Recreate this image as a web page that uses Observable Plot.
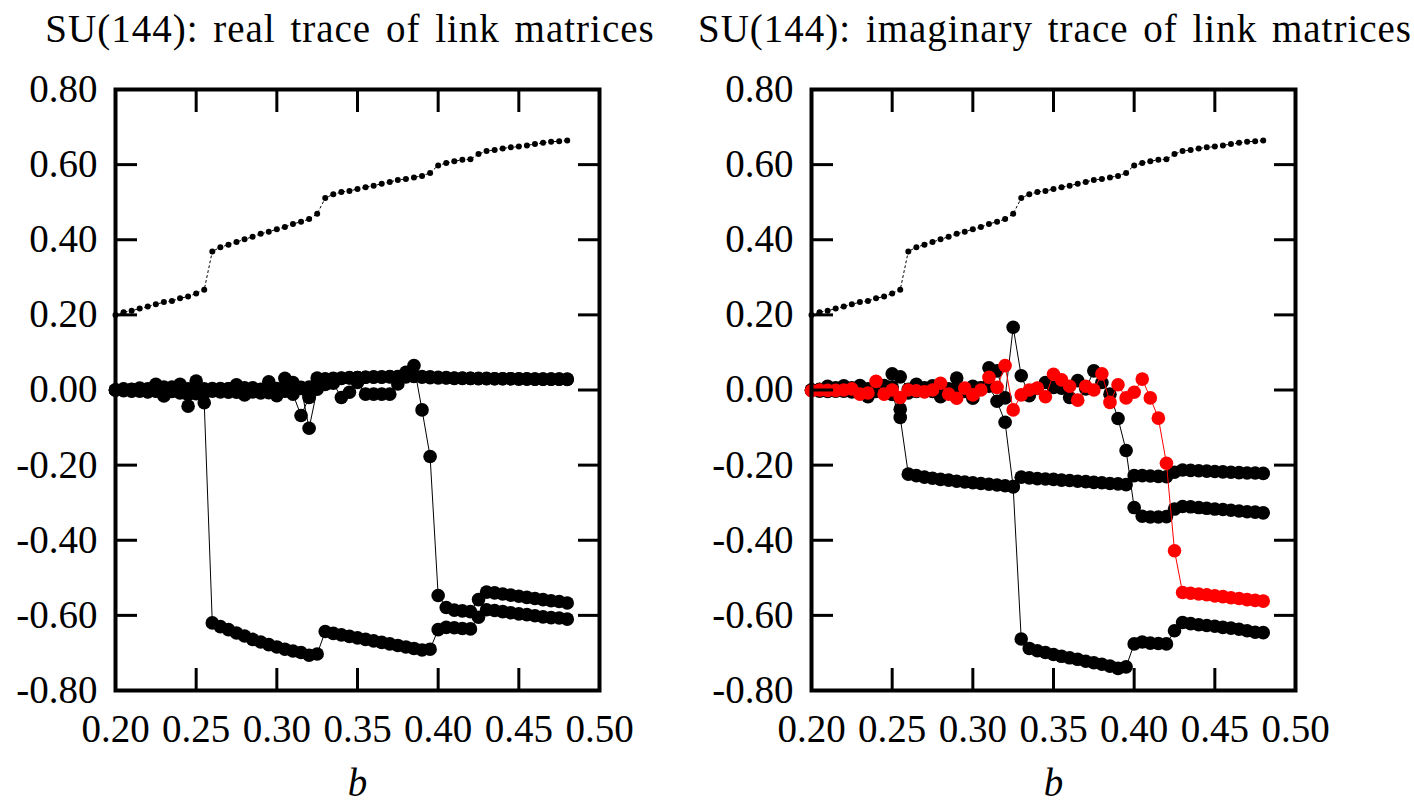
<!DOCTYPE html>
<html><head><meta charset="utf-8">
<script src="https://cdn.jsdelivr.net/npm/d3@7"></script>
<script src="https://cdn.jsdelivr.net/npm/@observablehq/plot@0.6"></script>
<style>
body{margin:0;background:#fff;}
#wrap{position:relative;width:1414px;height:805px;overflow:hidden;font-family:"Liberation Serif",serif;background:#fff;}
.title{position:absolute;top:9px;font-size:39px;line-height:39px;white-space:nowrap;text-align:center;letter-spacing:1px;word-spacing:4px;color:#000;}
.panel{position:absolute;top:0;}
</style></head><body><div id="wrap"></div>
<script>
const titles = ["SU(144): real trace of link matrices", "SU(144): imaginary trace of link matrices"];
const xLabel = "b";
const xTicks = [0.20, 0.25, 0.30, 0.35, 0.40, 0.45, 0.50];
const yTicks = [-0.8, -0.6, -0.4, -0.2, 0.0, 0.2, 0.4, 0.6, 0.8];

const bValues = [0.200,0.205,0.210,0.215,0.220,0.225,0.230,0.235,0.240,0.245,
0.250,0.255,0.260,0.265,0.270,0.275,0.280,0.285,0.290,0.295,
0.300,0.305,0.310,0.315,0.320,0.325,0.330,0.335,0.340,0.345,
0.350,0.355,0.360,0.365,0.370,0.375,0.380,0.385,0.390,0.395,
0.400,0.405,0.410,0.415,0.420,0.425,0.430,0.435,0.440,0.445,
0.450,0.455,0.460,0.465,0.470,0.475,0.480];

// small-dot upper series (same in both panels)
const plaquette = [0.200,0.207,0.211,0.217,0.222,0.228,0.234,0.237,0.244,0.249,
0.257,0.267,0.369,0.380,0.387,0.394,0.401,0.408,0.416,0.421,
0.428,0.434,0.442,0.448,0.455,0.469,0.511,0.521,0.527,0.530,
0.535,0.540,0.544,0.549,0.554,0.559,0.562,0.566,0.570,0.578,
0.598,0.604,0.609,0.613,0.614,0.628,0.636,0.639,0.643,0.646,
0.648,0.651,0.655,0.658,0.661,0.662,0.664];

// real trace, four directions
const realA = [0.000,0.002,-0.003,0.005,-0.004,0.004,-0.016,0.006,0.012,-0.043,
0.006,-0.034,-0.620,-0.630,-0.638,-0.647,-0.655,-0.664,-0.671,-0.678,
-0.684,-0.690,-0.695,-0.699,-0.706,-0.703,-0.643,-0.648,-0.652,-0.656,
-0.660,-0.664,-0.668,-0.672,-0.676,-0.680,-0.684,-0.688,-0.692,-0.690,
-0.638,-0.632,-0.633,-0.635,-0.636,-0.605,-0.585,-0.587,-0.590,-0.593,
-0.596,-0.598,-0.601,-0.604,-0.606,-0.607,-0.610];
const realB = [0.000,-0.002,0.001,-0.001,0.003,0.015,0.004,-0.004,0.015,0.003,
0.024,-0.002,-0.003,0.002,0.003,0.014,-0.013,0.006,-0.003,0.022,
-0.015,0.031,-0.011,-0.068,-0.020,0.032,0.030,0.031,0.032,0.033,
0.033,0.034,0.034,0.034,0.035,0.035,0.035,0.036,0.034,0.033,
0.032,0.032,0.031,0.031,0.031,0.030,0.030,0.030,0.030,0.030,
0.029,0.029,0.029,0.029,0.029,0.029,0.029];
const realC = [0.000,0.003,-0.002,0.003,-0.005,-0.003,0.002,0.008,-0.008,-0.005,
-0.010,0.003,0.004,-0.005,0.003,-0.006,0.006,-0.005,0.002,-0.007,
0.003,-0.003,0.008,0.007,-0.102,0.002,0.015,0.018,-0.020,-0.006,
0.020,-0.011,-0.011,-0.011,-0.011,0.016,0.047,0.065,-0.053,-0.177,
-0.547,-0.579,-0.586,-0.588,-0.590,-0.558,-0.538,-0.540,-0.543,-0.546,
-0.549,-0.552,-0.555,-0.558,-0.561,-0.563,-0.567];
const realD = [0.000,0.001,0.002,-0.003,0.001,-0.002,0.008,-0.002,0.004,-0.012,
0.002,-0.008,0.001,0.004,-0.006,0.002,0.004,-0.001,-0.008,0.002,
0.004,-0.002,0.020,0.004,0.008,0.018,0.028,0.030,0.031,0.032,
0.033,0.034,0.035,0.035,0.036,0.036,0.037,0.037,0.036,0.035,
0.034,0.033,0.032,0.032,0.031,0.031,0.031,0.030,0.030,0.030,
0.030,0.030,0.029,0.029,0.029,0.029,0.028];

// imaginary trace, three black directions + one red
const imagA = [0.000,-0.003,0.004,0.006,0.011,-0.005,0.012,-0.018,-0.004,0.012,
-0.012,-0.073,-0.224,-0.228,-0.232,-0.235,-0.238,-0.240,-0.243,-0.245,
-0.247,-0.249,-0.251,-0.253,-0.255,-0.257,-0.232,-0.234,-0.236,-0.237,
-0.238,-0.240,-0.241,-0.243,-0.244,-0.246,-0.247,-0.249,-0.250,-0.252,
-0.228,-0.228,-0.229,-0.230,-0.231,-0.219,-0.213,-0.214,-0.215,-0.216,
-0.217,-0.218,-0.219,-0.220,-0.221,-0.221,-0.222];
const imagB = [0.000,0.002,0.010,-0.003,0.004,0.006,-0.004,0.003,0.006,-0.006,
0.008,-0.051,-0.008,0.015,-0.004,0.011,-0.018,0.003,0.032,-0.004,
0.010,0.005,0.059,0.051,-0.021,0.167,0.038,-0.015,0.004,0.020,
0.007,0.005,-0.020,0.025,0.003,0.051,0.020,-0.011,-0.076,-0.161,
-0.313,-0.336,-0.338,-0.338,-0.337,-0.317,-0.310,-0.311,-0.313,-0.315,
-0.317,-0.318,-0.320,-0.322,-0.324,-0.325,-0.327];
const imagC = [0.000,0.001,-0.004,0.002,-0.003,0.001,0.004,-0.004,0.010,0.000,
0.043,0.035,0.002,-0.004,0.006,-0.004,0.004,-0.006,0.004,0.002,
-0.022,0.006,0.010,-0.030,-0.086,-0.258,-0.663,-0.688,-0.694,-0.699,
-0.704,-0.709,-0.713,-0.717,-0.722,-0.726,-0.730,-0.735,-0.741,-0.737,
-0.676,-0.671,-0.674,-0.675,-0.676,-0.641,-0.619,-0.622,-0.625,-0.627,
-0.629,-0.632,-0.634,-0.637,-0.641,-0.645,-0.646];
const imagRed = [-0.002,0.000,-0.001,-0.001,0.000,0.003,-0.011,-0.008,0.023,-0.011,
0.000,-0.020,0.000,-0.002,-0.005,0.000,0.018,-0.011,-0.022,0.005,
-0.013,0.000,0.034,0.007,0.065,-0.053,-0.013,0.000,0.005,-0.018,
0.042,0.027,0.010,-0.027,0.010,0.000,0.043,-0.033,0.014,-0.021,
-0.006,0.029,-0.021,-0.075,-0.195,-0.428,-0.539,-0.541,-0.543,-0.545,
-0.548,-0.550,-0.553,-0.555,-0.558,-0.560,-0.562];

const rows = (arr) => arr.map((v, i) => ({b: bValues[i], v}));
const fmt = d => d.toFixed(2);
const blank = () => "";
const FS = 39;

function seriesMarks(arr, color) {
  const data = rows(arr);
  return [
    Plot.line(data, {x: "b", y: "v", stroke: color, strokeWidth: 1}),
    Plot.dot(data, {x: "b", y: "v", r: 6.8, fill: color, stroke: "none"})
  ];
}

function panel(black, red, ml, mr, width) {
  const top = rows(plaquette);
  const marks = [
    Plot.line(top, {x: "b", y: "v", stroke: "black", strokeWidth: 1, strokeDasharray: "2,3"}),
    Plot.dot(top, {x: "b", y: "v", r: 3, fill: "black", stroke: "none"})
  ];
  for (const s of black) marks.push(...seriesMarks(s, "black"));
  if (red) marks.push(...seriesMarks(red, "#ff0000"));
  marks.push(
    Plot.frame({stroke: "black", strokeWidth: 4}),
    Plot.axisX({anchor: "bottom", ticks: xTicks, tickSize: 0, tickPadding: 24, tickFormat: fmt, fontSize: FS, label: null}),
    Plot.axisX({anchor: "bottom", ticks: xTicks, tickSize: -22, strokeWidth: 3, tickFormat: blank, label: null}),
    Plot.axisX({anchor: "top", ticks: xTicks, tickSize: -22, strokeWidth: 3, tickFormat: blank, label: null}),
    Plot.axisY({anchor: "left", ticks: yTicks, tickSize: 0, tickPadding: 18, tickFormat: fmt, fontSize: FS, label: null}),
    Plot.axisY({anchor: "left", ticks: yTicks, tickSize: -22, strokeWidth: 3, tickFormat: blank, label: null}),
    Plot.axisY({anchor: "right", ticks: yTicks, tickSize: -22, strokeWidth: 3, tickFormat: blank, label: null}),
    Plot.text([xLabel], {frameAnchor: "bottom", dy: 105, lineAnchor: "bottom", text: d => d, fontSize: FS, fontStyle: "italic"})
  );
  return Plot.plot({
    width, height: 805,
    marginLeft: ml, marginRight: mr, marginTop: 89, marginBottom: 115,
    x: {domain: [0.2, 0.5]},
    y: {domain: [-0.8, 0.8]},
    style: {fontFamily: "'Liberation Serif', serif", fontSize: FS + "px", background: "white", color: "black", overflow: "visible"},
    marks
  });
}

const wrap = document.getElementById("wrap");
const p1 = panel([realA, realB, realC, realD], null, 115, 108, 707);
p1.classList.add("panel"); p1.style.left = "0px";
const p2 = panel([imagA, imagB, imagC], imagRed, 104, 119, 707);
p2.classList.add("panel"); p2.style.left = "707px";
wrap.appendChild(p1); wrap.appendChild(p2);

const centers = [350, 1055];
titles.forEach((t, i) => {
  const d = document.createElement("div");
  d.className = "title";
  d.textContent = t;
  wrap.appendChild(d);
  const w = d.getBoundingClientRect().width;
  d.style.left = (centers[i] - w / 2) + "px";
});
</script>
</body></html>
